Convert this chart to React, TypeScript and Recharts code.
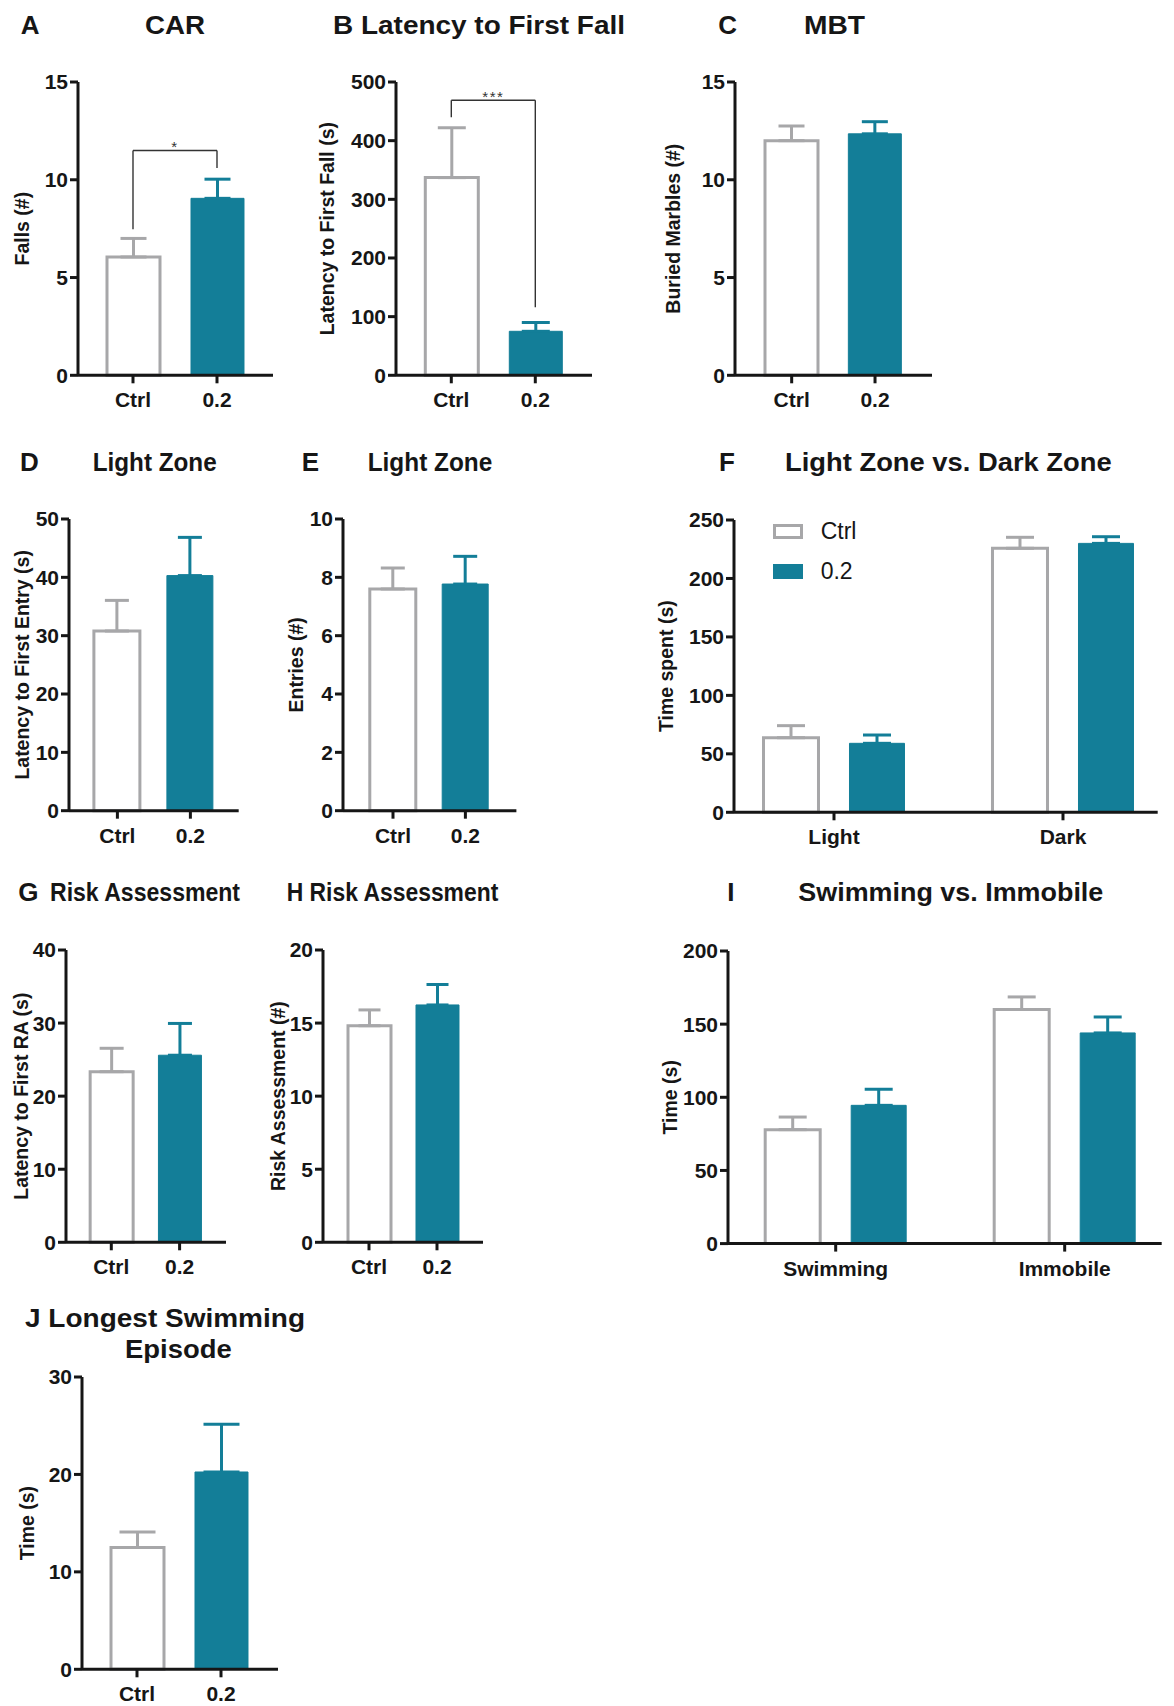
import React from "react";
import {
  BarChart,
  Bar,
  XAxis,
  YAxis,
  ErrorBar,
  Cell,
  ReferenceLine,
  Legend,
} from "recharts";

const FONT = "'Liberation Sans', Arial, Helvetica, sans-serif";
const INK = "#161616";
const GREY = "#a7a7a9";
const TEAL = "#137e98";
const BRACKET = "#333333";

// categories
const GROUPS = ["Ctrl", "0.2"];
const ZONES = ["Light", "Dark"];
const BEHAVIORS = ["Swimming", "Immobile"];

// A  CAR
const carMean = [6.05, 9.05];
const carSem = [0.95, 0.98];
const carTicks = [0, 5, 10, 15];
const carSig = { y: 11.5, leftEnd: 7.47, rightEnd: 10.6, text: "*" };

// B  latency to first fall
const fallMean = [337, 75];
const fallSem = [85, 15];
const fallTicks = [0, 100, 200, 300, 400, 500];
const fallSig = { y: 469, leftEnd: 440, rightEnd: 116, text: "***" };

// C  MBT
const mbtMean = [12.0, 12.35];
const mbtSem = [0.75, 0.62];
const mbtTicks = [0, 5, 10, 15];

// D  light zone latency
const lightLatMean = [30.8, 40.3];
const lightLatSem = [5.25, 6.55];
const lightLatTicks = [0, 10, 20, 30, 40, 50];

// E  light zone entries
const lightEntMean = [7.6, 7.77];
const lightEntSem = [0.72, 0.95];
const lightEntTicks = [0, 2, 4, 6, 8, 10];

// F  light vs dark time
const zoneCtrlMean = [63.8, 225.8];
const zoneCtrlSem = [10.3, 9.4];
const zoneDoseMean = [59, 230];
const zoneDoseSem = [7.1, 5.7];
const zoneTicks = [0, 50, 100, 150, 200, 250];

// G  latency to first RA
const raLatMean = [23.35, 25.6];
const raLatSem = [3.2, 4.35];
const raLatTicks = [0, 10, 20, 30, 40];

// H  risk assessment count
const raMean = [14.82, 16.24];
const raSem = [1.08, 1.4];
const raTicks = [0, 5, 10, 15, 20];

// I  swimming vs immobile
const fstCtrlMean = [77.9, 160];
const fstCtrlSem = [8.6, 8.6];
const fstDoseMean = [94.5, 144];
const fstDoseSem = [11, 10.9];
const fstTicks = [0, 50, 100, 150, 200];

// J  longest swimming episode
const swimMean = [12.5, 20.25];
const swimSem = [1.6, 4.9];
const swimTicks = [0, 10, 20, 30];

const Y_W = 95;
const X_H = 45;
const TOP = 18;

const axisStyle = { stroke: INK, strokeWidth: 3 };
const tickStyle = { fontSize: 21, fontWeight: 700, fill: INK, fontFamily: FONT };

function yLabelProps(text: string, labelX: number, ax: number) {
  return {
    value: text,
    angle: -90,
    position: "center" as const,
    dx: labelX - ax + Y_W / 2,
    fontSize: 19.5,
    fontWeight: 700,
    fill: INK,
    fontFamily: FONT,
  };
}

type Box = { ax: number; ar: number; pt: number; pb: number };
type Sig = { y: number; leftEnd: number; rightEnd: number; text: string };

function PairPanel(props: {
  box: Box;
  pad: [number, number];
  barSize: number;
  cap: number;
  ticks: number[];
  yLabel: string;
  labelX: number;
  mean: number[];
  sem: number[];
  sig?: Sig;
}) {
  const { box, pad, barSize, cap, ticks, yLabel, labelX, mean, sem, sig } = props;
  const L = box.ax - Y_W;
  const T = box.pt - TOP;
  const rows = GROUPS.map((g, i) => ({
    name: g,
    value: mean[i],
    errCtrl: i === 0 ? [0, sem[i]] : null,
    errDose: i === 1 ? [0, sem[i]] : null,
  }));
  return (
    <div style={{ position: "absolute", left: L, top: T }}>
      <BarChart
        width={box.ar - L}
        height={box.pb - T + X_H}
        data={rows}
        margin={{ top: TOP, right: 0, bottom: 0, left: 0 }}
      >
        <XAxis
          dataKey="name"
          height={X_H}
          padding={{ left: pad[0], right: pad[1] }}
          axisLine={axisStyle}
          tickLine={axisStyle}
          tickSize={8}
          tickMargin={9}
          tick={tickStyle}
        />
        <YAxis
          width={Y_W}
          domain={[0, ticks[ticks.length - 1]]}
          ticks={ticks}
          interval={0}
          axisLine={axisStyle}
          tickLine={axisStyle}
          tickSize={8}
          tickMargin={2}
          tick={tickStyle}
          label={yLabelProps(yLabel, labelX, box.ax)}
        />
        <Bar dataKey="value" barSize={barSize} isAnimationActive={false}>
          {rows.map((r, i) => (
            <Cell
              key={r.name}
              fill={i === 0 ? "#ffffff" : TEAL}
              stroke={i === 0 ? GREY : TEAL}
              strokeWidth={i === 0 ? 3 : 1}
            />
          ))}
          <ErrorBar dataKey="errCtrl" width={cap} stroke={GREY} strokeWidth={3} direction="y" />
          <ErrorBar dataKey="errDose" width={cap} stroke={TEAL} strokeWidth={3} direction="y" />
        </Bar>
        {sig && (
          <ReferenceLine
            segment={[
              { x: GROUPS[0], y: sig.y },
              { x: GROUPS[1], y: sig.y },
            ]}
            position="middle"
            stroke={BRACKET}
            strokeWidth={1.4}
            label={{
              value: sig.text,
              position: "top",
              offset: -2,
              fontSize: 15,
              fill: BRACKET,
              letterSpacing: 1.5,
              fontFamily: FONT,
            }}
          />
        )}
        {sig && (
          <ReferenceLine
            segment={[
              { x: GROUPS[0], y: sig.y },
              { x: GROUPS[0], y: sig.leftEnd },
            ]}
            position="middle"
            stroke={BRACKET}
            strokeWidth={1.4}
          />
        )}
        {sig && (
          <ReferenceLine
            segment={[
              { x: GROUPS[1], y: sig.y },
              { x: GROUPS[1], y: sig.rightEnd },
            ]}
            position="middle"
            stroke={BRACKET}
            strokeWidth={1.4}
          />
        )}
      </BarChart>
    </div>
  );
}

function GroupPanel(props: {
  box: Box;
  pad: [number, number];
  barSize: number;
  gap: number;
  cap: number;
  ticks: number[];
  yLabel: string;
  labelX: number;
  cats: string[];
  ctrlMean: number[];
  ctrlSem: number[];
  doseMean: number[];
  doseSem: number[];
  legendAt?: { left: number; top: number };
}) {
  const { box, pad, barSize, gap, cap, ticks, yLabel, labelX, cats, legendAt } = props;
  const L = box.ax - Y_W;
  const T = box.pt - TOP;
  const rows = cats.map((c, i) => ({
    name: c,
    ctrl: props.ctrlMean[i],
    dose: props.doseMean[i],
    ctrlErr: [0, props.ctrlSem[i]],
    doseErr: [0, props.doseSem[i]],
  }));
  return (
    <div style={{ position: "absolute", left: L, top: T }}>
      <BarChart
        width={box.ar - L}
        height={box.pb - T + X_H}
        data={rows}
        barGap={gap}
        margin={{ top: TOP, right: 0, bottom: 0, left: 0 }}
      >
        <XAxis
          dataKey="name"
          height={X_H}
          padding={{ left: pad[0], right: pad[1] }}
          axisLine={axisStyle}
          tickLine={axisStyle}
          tickSize={8}
          tickMargin={9}
          tick={tickStyle}
        />
        <YAxis
          width={Y_W}
          domain={[0, ticks[ticks.length - 1]]}
          ticks={ticks}
          interval={0}
          axisLine={axisStyle}
          tickLine={axisStyle}
          tickSize={8}
          tickMargin={2}
          tick={tickStyle}
          label={yLabelProps(yLabel, labelX, box.ax)}
        />
        <Bar
          dataKey="ctrl"
          name={GROUPS[0]}
          fill="#ffffff"
          stroke={GREY}
          strokeWidth={3}
          barSize={barSize}
          isAnimationActive={false}
        >
          <ErrorBar dataKey="ctrlErr" width={cap} stroke={GREY} strokeWidth={3} direction="y" />
        </Bar>
        <Bar
          dataKey="dose"
          name={GROUPS[1]}
          fill={TEAL}
          stroke={TEAL}
          strokeWidth={1}
          barSize={barSize}
          isAnimationActive={false}
        >
          <ErrorBar dataKey="doseErr" width={cap} stroke={TEAL} strokeWidth={3} direction="y" />
        </Bar>
        {legendAt && (
          <Legend
            layout="vertical"
            align="center"
            verticalAlign="middle"
            wrapperStyle={{ left: legendAt.left - L, top: legendAt.top - T, width: 140 }}
            content={() => (
              <div style={{ fontFamily: FONT }}>
                {GROUPS.map((g, i) => (
                  <div
                    key={g}
                    style={{ display: "flex", alignItems: "center", height: 40 }}
                  >
                    <span
                      style={{
                        display: "inline-block",
                        boxSizing: "border-box",
                        width: 30,
                        height: 15,
                        background: i === 0 ? "#ffffff" : TEAL,
                        border: `3px solid ${i === 0 ? GREY : TEAL}`,
                      }}
                    />
                    <span style={{ marginLeft: 18, fontSize: 23, color: INK }}>{g}</span>
                  </div>
                ))}
              </div>
            )}
          />
        )}
      </BarChart>
    </div>
  );
}

type Title = { text: string; x: number; y: number; w?: number };

const TITLES: Title[] = [
  { text: "A", x: 20.7, y: 34 },
  { text: "CAR", x: 145, y: 34, w: 60 },
  { text: "B Latency to First Fall", x: 333, y: 34, w: 292 },
  { text: "C", x: 718.3, y: 34 },
  { text: "MBT", x: 804, y: 34, w: 61 },
  { text: "D", x: 20, y: 470.7 },
  { text: "Light Zone", x: 92.7, y: 470.7, w: 124 },
  { text: "E", x: 301.7, y: 470.7 },
  { text: "Light Zone", x: 367.7, y: 470.7, w: 124.6 },
  { text: "F", x: 719, y: 470.5 },
  { text: "Light Zone vs. Dark Zone", x: 785, y: 470.5, w: 326.7 },
  { text: "G", x: 18.3, y: 900.7 },
  { text: "Risk Assessment", x: 50, y: 900.7, w: 190 },
  { text: "H Risk Assessment", x: 286.7, y: 900.7, w: 211.6 },
  { text: "I", x: 727.3, y: 901 },
  { text: "Swimming vs. Immobile", x: 798.3, y: 901, w: 305 },
  { text: "J Longest Swimming", x: 25, y: 1327, w: 280 },
  { text: "Episode", x: 125, y: 1357.5, w: 106.7 },
];

export default function App() {
  return (
    <div
      style={{
        position: "absolute",
        left: 0,
        top: 0,
        width: 1174,
        height: 1706,
        background: "#ffffff",
        fontFamily: FONT,
      }}
    >
      <PairPanel
        box={{ ax: 77.7, ar: 273, pt: 81.7, pb: 375 }}
        pad={[13, 14.3]}
        barSize={53}
        cap={13}
        ticks={carTicks}
        yLabel="Falls (#)"
        labelX={21.7}
        mean={carMean}
        sem={carSem}
        sig={carSig}
      />
      <PairPanel
        box={{ ax: 395.7, ar: 591.7, pt: 81.7, pb: 375 }}
        pad={[13.3, 14.7]}
        barSize={53}
        cap={14}
        ticks={fallTicks}
        yLabel="Latency to First Fall (s)"
        labelX={326.7}
        mean={fallMean}
        sem={fallSem}
        sig={fallSig}
      />
      <PairPanel
        box={{ ax: 735, ar: 932, pt: 81.7, pb: 375 }}
        pad={[15, 15.3]}
        barSize={53}
        cap={13}
        ticks={mbtTicks}
        yLabel="Buried Marbles (#)"
        labelX={673.3}
        mean={mbtMean}
        sem={mbtSem}
      />
      <PairPanel
        box={{ ax: 69.3, ar: 239, pt: 519.3, pb: 811 }}
        pad={[11.9, 11.8]}
        barSize={46}
        cap={12}
        ticks={lightLatTicks}
        yLabel="Latency to First Entry (s)"
        labelX={22.3}
        mean={lightLatMean}
        sem={lightLatSem}
      />
      <PairPanel
        box={{ ax: 343.3, ar: 516.7, pt: 519.3, pb: 811 }}
        pad={[13.8, 14.8]}
        barSize={46}
        cap={12}
        ticks={lightEntTicks}
        yLabel="Entries (#)"
        labelX={296.7}
        mean={lightEntMean}
        sem={lightEntSem}
      />
      <GroupPanel
        box={{ ax: 734.3, ar: 1158, pt: 520, pb: 812.3 }}
        pad={[-14.5, -19.8]}
        barSize={55}
        gap={31}
        cap={14}
        ticks={zoneTicks}
        yLabel="Time spent (s)"
        labelX={666.7}
        cats={ZONES}
        ctrlMean={zoneCtrlMean}
        ctrlSem={zoneCtrlSem}
        doseMean={zoneDoseMean}
        doseSem={zoneDoseSem}
        legendAt={{ left: 772.7, top: 511.5 }}
      />
      <PairPanel
        box={{ ax: 65.7, ar: 226, pt: 950, pb: 1242.3 }}
        pad={[11.15, 12.55]}
        barSize={43}
        cap={12}
        ticks={raLatTicks}
        yLabel="Latency to First RA (s)"
        labelX={20.7}
        mean={raLatMean}
        sem={raLatSem}
      />
      <PairPanel
        box={{ ax: 323.3, ar: 483.3, pt: 950, pb: 1242.3 }}
        pad={[12, 12]}
        barSize={43}
        cap={11}
        ticks={raTicks}
        yLabel="Risk Assessment (#)"
        labelX={278.3}
        mean={raMean}
        sem={raSem}
      />
      <GroupPanel
        box={{ ax: 728.3, ar: 1162, pt: 950.7, pb: 1243.3 }}
        pad={[-6.8, -17.5]}
        barSize={55}
        gap={31}
        cap={14}
        ticks={fstTicks}
        yLabel="Time (s)"
        labelX={670}
        cats={BEHAVIORS}
        ctrlMean={fstCtrlMean}
        ctrlSem={fstCtrlSem}
        doseMean={fstDoseMean}
        doseSem={fstDoseSem}
      />
      <PairPanel
        box={{ ax: 81.7, ar: 277.7, pt: 1376.7, pb: 1669 }}
        pad={[13, 15]}
        barSize={53}
        cap={18}
        ticks={swimTicks}
        yLabel="Time (s)"
        labelX={26.7}
        mean={swimMean}
        sem={swimSem}
      />
      <svg
        width={1174}
        height={1706}
        style={{ position: "absolute", left: 0, top: 0, pointerEvents: "none" }}
      >
        {TITLES.map((t, i) => (
          <text
            key={i}
            x={t.x}
            y={t.y}
            fontSize={26}
            fontWeight={700}
            fill={INK}
            fontFamily={FONT}
            textLength={t.w}
            lengthAdjust={t.w ? "spacingAndGlyphs" : undefined}
          >
            {t.text}
          </text>
        ))}
      </svg>
    </div>
  );
}
